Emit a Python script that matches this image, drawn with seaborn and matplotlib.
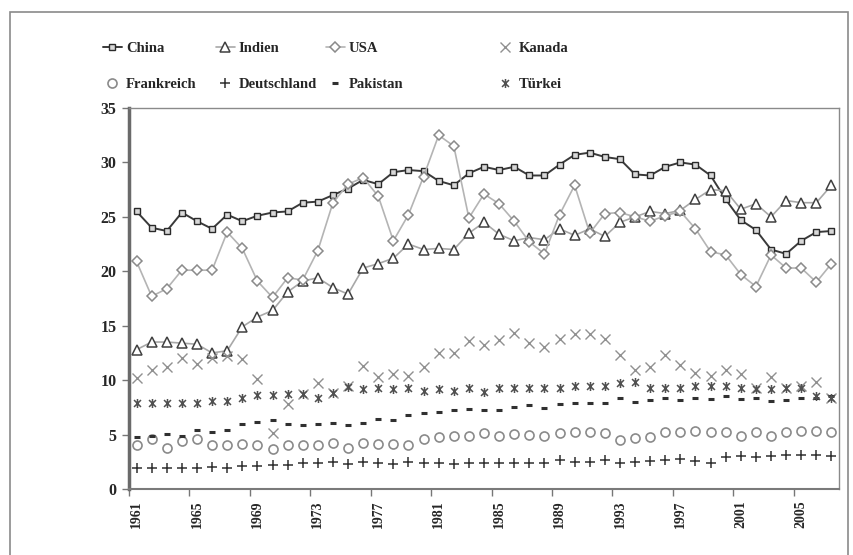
import matplotlib
matplotlib.use("Agg")
import matplotlib.pyplot as plt
import seaborn as sns
from matplotlib.path import Path
from matplotlib.patches import Rectangle

# Daten, 1961-2007
jahre = list(range(1961, 2008))
china = [25.5, 24.0, 23.7, 25.4, 24.6, 23.9, 25.2, 24.6, 25.1, 25.4, 25.5, 26.3, 26.4, 27.0, 27.6, 28.4, 28.0, 29.1, 29.3, 29.2,
         28.3, 27.9, 29.0, 29.6, 29.3, 29.6, 28.8, 28.8, 29.8, 30.7, 30.9, 30.5, 30.3, 28.9, 28.8, 29.6, 30.0, 29.8, 28.8, 26.6,
         24.7, 23.8, 22.0, 21.6, 22.8, 23.6, 23.7]
indien = [12.8, 13.5, 13.5, 13.4, 13.3, 12.5, 12.7, 14.9, 15.8, 16.4, 18.1, 19.1, 19.4, 18.5, 17.9, 20.3, 20.7, 21.2, 22.5, 22.0,
          22.1, 22.0, 23.5, 24.5, 23.4, 22.8, 23.1, 22.9, 23.9, 23.3, 23.9, 23.2, 24.5, 25.0, 25.5, 25.3, 25.6, 26.6, 27.5, 27.4,
          25.7, 26.2, 25.0, 26.5, 26.3, 26.3, 27.9]
usa = [20.9, 17.7, 18.4, 20.1, 20.1, 20.1, 23.6, 22.1, 19.1, 17.6, 19.4, 19.2, 21.9, 26.3, 28.0, 28.6, 26.9, 22.8, 25.2, 28.7,
       32.5, 31.5, 24.9, 27.1, 26.2, 24.6, 22.7, 21.6, 25.2, 27.9, 23.5, 25.3, 25.4, 25.0, 24.6, 25.1, 25.5, 23.9, 21.8, 21.5,
       19.7, 18.6, 21.5, 20.3, 20.3, 19.0, 20.7]
kanada = [10.2, 10.9, 11.2, 12.0, 11.5, 12.0, 12.2, 11.9, 10.1, 5.1, 7.8, 8.7, 9.7, 8.8, 9.5, 11.3, 10.3, 10.6, 10.4, 11.2,
          12.5, 12.5, 13.6, 13.2, 13.7, 14.3, 13.4, 13.0, 13.8, 14.2, 14.2, 13.8, 12.3, 10.9, 11.2, 12.3, 11.4, 10.7, 10.4, 10.9,
          10.6, 9.3, 10.3, 9.3, 9.5, 9.8, 8.4]
frankreich = [4.0, 4.6, 3.8, 4.4, 4.6, 4.0, 4.0, 4.1, 4.05, 3.7, 4.0, 4.0, 4.0, 4.2, 3.8, 4.25, 4.1, 4.1, 4.05, 4.6,
              4.8, 4.9, 4.9, 5.1, 4.9, 5.05, 4.95, 4.9, 5.1, 5.2, 5.2, 5.1, 4.5, 4.7, 4.8, 5.2, 5.2, 5.3, 5.2, 5.2,
              4.9, 5.2, 4.9, 5.2, 5.3, 5.3, 5.2]
deutschland = [1.9, 1.9, 1.9, 1.95, 1.95, 2.0, 1.95, 2.1, 2.1, 2.2, 2.2, 2.4, 2.4, 2.5, 2.3, 2.5, 2.35, 2.3, 2.5, 2.4,
               2.35, 2.3, 2.4, 2.4, 2.4, 2.4, 2.4, 2.4, 2.65, 2.5, 2.5, 2.65, 2.4, 2.5, 2.55, 2.65, 2.8, 2.6, 2.4, 2.95,
               3.0, 2.95, 3.05, 3.15, 3.1, 3.1, 3.05]
pakistan = [4.8, 4.9, 5.05, 4.9, 5.4, 5.2, 5.4, 6.0, 6.15, 6.3, 6.0, 5.9, 6.0, 6.1, 5.85, 6.1, 6.45, 6.35, 6.8, 6.95,
            7.05, 7.25, 7.35, 7.3, 7.3, 7.5, 7.7, 7.4, 7.8, 7.9, 7.9, 7.9, 8.4, 8.0, 8.2, 8.4, 8.2, 8.4, 8.3, 8.5,
            8.3, 8.4, 8.1, 8.2, 8.4, 8.4, 8.5]
tuerkei = [7.9, 7.9, 7.9, 7.9, 7.9, 8.1, 8.1, 8.4, 8.6, 8.6, 8.7, 8.7, 8.4, 8.8, 9.4, 9.2, 9.3, 9.2, 9.3, 9.0,
           9.2, 9.0, 9.3, 8.9, 9.3, 9.3, 9.3, 9.3, 9.3, 9.5, 9.5, 9.5, 9.7, 9.8, 9.3, 9.3, 9.3, 9.5, 9.5, 9.5,
           9.3, 9.2, 9.2, 9.3, 9.3, 8.5, 8.4]
tick_jahre = list(range(1961, 2006, 4))

sns.set_theme(style="white")
plt.rcParams['font.family'] = ['Liberation Serif', 'DejaVu Serif']
plt.rcParams['font.weight'] = 'bold'

# Stern-Marker wie in Excel (X mit senkrechtem Strich)
stern = Path([(-1, -1), (1, 1), (-1, 1), (1, -1), (0, -1.3), (0, 1.3)],
             [Path.MOVETO, Path.LINETO, Path.MOVETO, Path.LINETO, Path.MOVETO, Path.LINETO])

fig = plt.figure(figsize=(8.54, 5.55), dpi=100)
ax = fig.add_axes([129 / 854, 1 - 489 / 555, 710 / 854, 381 / 555])

serien = [
    ("China", china, dict(color="#3a3a3a", linewidth=1.4, marker="s", markersize=4.5, markerfacecolor="#d8d8d8",
                          markeredgecolor="#2a2a2a", markeredgewidth=1.0)),
    ("Indien", indien, dict(color="#a8a8a8", linewidth=1.2, marker="^", markersize=6.5, markerfacecolor="white",
                            markeredgecolor="#404040", markeredgewidth=1.1)),
    ("USA", usa, dict(color="#b4b4b4", linewidth=1.2, marker="D", markersize=5.5, markerfacecolor="white",
                      markeredgecolor="#8a8a8a", markeredgewidth=1.1)),
    ("Kanada", kanada, dict(color="#909090", linestyle="", marker="x", markersize=6.5,
                            markeredgecolor="#909090", markeredgewidth=1.0)),
    ("Frankreich", frankreich, dict(color="#8a8a8a", linestyle="", marker="o", markersize=6.5, markerfacecolor="none",
                                    markeredgecolor="#8a8a8a", markeredgewidth=1.2)),
    ("Deutschland", deutschland, dict(color="#303030", linestyle="", marker="+", markersize=7.5,
                                      markeredgecolor="#303030", markeredgewidth=1.1)),
    ("Pakistan", pakistan, dict(color="#303030", linestyle="", marker="_", markersize=4.5,
                                markeredgecolor="#303030", markeredgewidth=2.2)),
    ("Türkei", tuerkei, dict(color="#505050", linestyle="", marker=stern, markersize=6.5, markerfacecolor="none",
                             markeredgecolor="#505050", markeredgewidth=1.1)),
]

for name, werte, stil in serien:
    sns.lineplot(x=jahre, y=werte, ax=ax, label=name, errorbar=None, **stil)

handles = ax.get_lines()
labels = [s[0] for s in serien]
ax.get_legend().remove()

# Legende: 4 Spalten, 2 Zeilen
spalten_x = [96 / 854, 209 / 854, 319 / 854, 489 / 854]
for k, x0 in enumerate(spalten_x):
    fig.legend([handles[k], handles[k + 4]], [labels[k], labels[k + 4]],
               loc="upper left", bbox_to_anchor=(x0, 1 - 35 / 555), frameon=False,
               handlelength=1.25, handletextpad=0.3, labelspacing=1.55, borderpad=0,
               prop=dict(family="Liberation Serif", weight="bold", size=10.5))

ax.set_xlim(1960.5, 2007.5)
ax.set_ylim(0, 35)
ax.set_yticks(range(0, 36, 5))
ax.set_xticks(tick_jahre)
ax.set_xticklabels([str(j) for j in tick_jahre], rotation=90, fontsize=10, fontweight="bold")
ax.set_xticks([1960.5 + 4 * k for k in range(12)], minor=True)
ax.tick_params(axis="x", which="major", length=0, pad=8)
ax.tick_params(axis="x", which="minor", length=5, width=1, color="#777777", direction="out", bottom=True)
ax.tick_params(axis="y", length=5, width=1, color="#777777", direction="out", left=True, labelsize=11.5, pad=4)
for lbl in ax.get_yticklabels():
    lbl.set_fontweight("bold")
ax.set_xlabel("")
ax.set_ylabel("")

ax.spines["left"].set_linewidth(2.5)
ax.spines["left"].set_color("#6a6a6a")
ax.spines["bottom"].set_linewidth(1.5)
ax.spines["bottom"].set_color("#7a7a7a")
for s in ["top", "right"]:
    ax.spines[s].set_linewidth(1.0)
    ax.spines[s].set_color("#8a8a8a")

# Rahmen um das Diagramm
fig.patches.append(Rectangle((10 / 854, -0.02), 838 / 854, 1.02 - 12 / 555, transform=fig.transFigure,
                             fill=False, edgecolor="#8a8a8a", linewidth=1.2))

fig.savefig("out.png", dpi=100)
